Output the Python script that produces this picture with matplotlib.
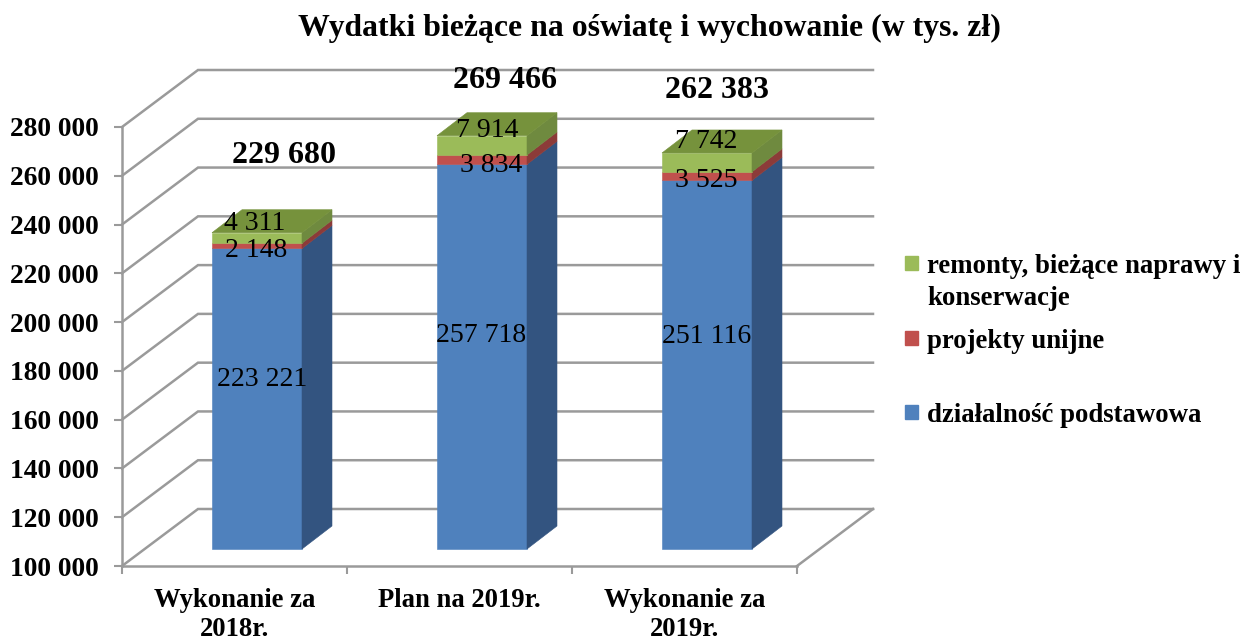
import matplotlib
matplotlib.use("Agg")
import matplotlib.pyplot as plt
from matplotlib.patches import Rectangle
from matplotlib.transforms import Affine2D

plt.rcParams["font.family"] = ["Liberation Serif", "DejaVu Serif"]

W, H = 1252, 641

title = "Wydatki bieżące na oświatę i wychowanie (w tys. zł)"
categories = ["Wykonanie za\n2018r.", "Plan na 2019r.", "Wykonanie za\n2019r."]
podstawowa = [223221, 257718, 251116]
unijne = [2148, 3834, 3525]
remonty = [4311, 7914, 7742]
totals = [229680, 269466, 262383]
y_ticks = list(range(100000, 280001, 20000))
legend_labels = ["remonty, bieżące naprawy i\nkonserwacje", "projekty unijne", "działalność podstawowa"]

# pixel nudges for the labels (dx, dy, up is positive)
podst_nudge = [(5, 19), (-1, 21), (0, 28)]
unijne_nudge = [(-1, -5), (9, -6), (-1, -4)]
remonty_nudge = [(-2, 14), (5, 15), (-1, 21)]
total_nudge = [(27, 77), (23, 55), (10, 62)]

BASE = 100000
TOP = 280000
FRONT = ["#4f81bd", "#c0504d", "#9bbb59"]
SIDE = ["#335480", "#8c3b39", "#6f8a3f"]
TOP_FACE = "#76923c"
GRID = "#9a9a9a"


def fmt(v):
    return f"{v:,}".replace(",", " ")


def shifted(ax, dx, dy):
    return ax.transData + Affine2D().translate(dx, dy)


def draw_walls(ax):
    back = shifted(ax, 76, 57)
    for v in y_ticks:
        # corner to back wall, built from both transforms in pixels
        p0 = ax.transData.transform((-0.5, v))
        p1 = back.transform((-0.5, v))
        p2 = back.transform((2.5, v))
        ax.plot([p0[0], p1[0], p2[0]], [p0[1], p1[1], p2[1]], transform=None,
                color=GRID, lw=1.8, zorder=1, clip_on=False, solid_joinstyle="miter")
    p0 = ax.transData.transform((2.5, BASE))
    p1 = back.transform((2.5, BASE))
    ax.plot([p0[0], p1[0]], [p0[1], p1[1]], transform=None, color=GRID, lw=1.8, zorder=1, clip_on=False)


def draw_box(ax, x, y0, y1, front, side, top=None):
    hw = 0.2
    tr = shifted(ax, 22.5, 17)
    tr_back = shifted(ax, 52.5, 40)
    f0 = tr.transform([(x - hw, y0), (x + hw, y0), (x + hw, y1), (x - hw, y1)])
    b0 = tr_back.transform([(x - hw, y0), (x + hw, y0), (x + hw, y1), (x - hw, y1)])
    ax.fill(*zip(*f0), transform=None, color=front, lw=0.4, zorder=3, clip_on=False)
    ax.fill(*zip(f0[1], b0[1], b0[2], f0[2]), transform=None, color=side, lw=0.4, zorder=3, clip_on=False)
    if top:
        ax.fill(*zip(f0[3], f0[2], b0[2], b0[3]), transform=None, color=top, lw=0.4, zorder=3, clip_on=False)


def label(ax, x, y, text, nudge, size, weight="normal"):
    ax.annotate(text, (x, y), xycoords=shifted(ax, 22.5, 17), xytext=nudge, textcoords="offset pixels",
                ha="center", va="center", fontsize=size, fontweight=weight, color="black",
                zorder=5, annotation_clip=False)


fig = plt.figure(figsize=(W / 100, H / 100), dpi=100)
ax = fig.add_axes([122 / W, 1 - 566 / H, 675 / W, 439 / H])
ax.set_xlim(-0.5, 2.5)
ax.set_ylim(BASE, TOP)
ax.patch.set_alpha(0)

for s in ["top", "right"]:
    ax.spines[s].set_visible(False)
for s in ["left", "bottom"]:
    ax.spines[s].set_color(GRID)
    ax.spines[s].set_linewidth(1.8)

ax.set_yticks(y_ticks)
ax.set_yticklabels([fmt(v) for v in y_ticks], fontsize=19.8, fontweight="bold")
ax.tick_params(axis="y", length=6, width=1.5, color=GRID, pad=10.5)
ax.set_xticks([-0.5, 0.5, 1.5, 2.5])
ax.set_xticklabels([])
ax.set_xticks(range(len(categories)), categories, minor=True, fontsize=19.2, fontweight="bold", linespacing=1.19)
ax.tick_params(axis="x", which="major", length=6, width=1.5, color=GRID)
ax.tick_params(axis="x", which="minor", length=0, pad=16)

draw_walls(ax)

for i in range(len(categories)):
    a = podstawowa[i]
    b = a + unijne[i]
    c = b + remonty[i]
    draw_box(ax, i, BASE, a, FRONT[0], SIDE[0])
    draw_box(ax, i, a, b, FRONT[1], SIDE[1])
    draw_box(ax, i, b, c, FRONT[2], SIDE[2], TOP_FACE)
    label(ax, i, (BASE + a) / 2, fmt(a), podst_nudge[i], 20)
    label(ax, i, (a + b) / 2, fmt(unijne[i]), unijne_nudge[i], 20)
    label(ax, i, (b + c) / 2, fmt(remonty[i]), remonty_nudge[i], 20)
    label(ax, i, totals[i], fmt(totals[i]), total_nudge[i], 23, "bold")

fig.text(649 / W, 1 - 28 / H, title, ha="center", va="center", fontsize=22.9, fontweight="bold")

# legend has uneven gaps in the original so it is placed by hand
legend_colors = [FRONT[2], FRONT[1], FRONT[0]]
legend_rows = [256, 331, 405]
for lab, col, py in zip(legend_labels, legend_colors, legend_rows):
    fig.patches.append(Rectangle((905 / W, 1 - (py + 14) / H), 13 / W, 14 / H, color=col,
                                 transform=fig.transFigure, figure=fig))
    fig.text(927 / W, 1 - (py - 2) / H, lab, ha="left", va="top", fontsize=19.3, fontweight="bold", linespacing=1.37)

fig.savefig("out.png", dpi=100)
